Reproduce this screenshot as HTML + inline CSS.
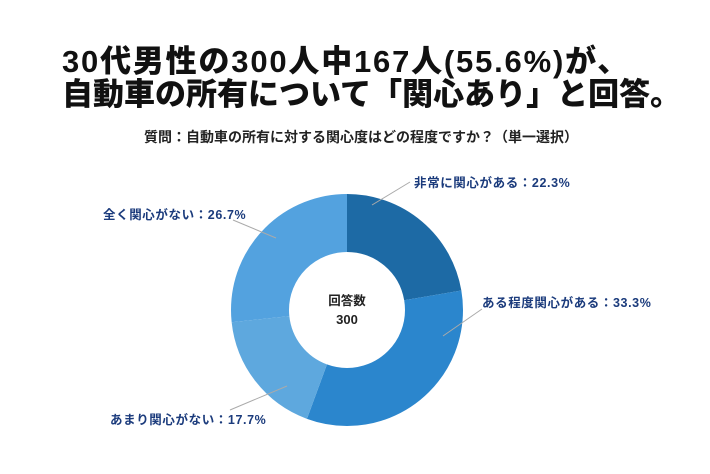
<!DOCTYPE html>
<html><head><meta charset="utf-8"><style>
body{margin:0;background:#fff;width:710px;height:474px;overflow:hidden;font-family:"Liberation Sans","Noto Sans CJK JP",sans-serif;}
.t{position:absolute;left:62px;font-weight:900;font-size:31px;color:#111;white-space:nowrap}
.l{position:absolute;font-weight:bold;font-size:12.5px;color:#1b3b7c;white-space:nowrap;letter-spacing:0.6px}
</style></head><body>
<div class="t" style="top:36px;letter-spacing:1.8px">30代男性の300人中167人(55.6%)が、</div>
<div class="t" style="top:69px;letter-spacing:0px">自動車の所有について「関心あり」と回答。</div>
<div style="position:absolute;top:127px;left:0;width:710px;text-align:center;font-size:14px;font-weight:bold;color:#222;padding-left:6px">質問：自動車の所有に対する関心度はどの程度ですか？（単一選択）</div>
<svg width="710" height="474" style="position:absolute;left:0;top:0">
<g transform="rotate(-90 347 310)" fill="none" stroke-width="58">
<circle cx="347" cy="310" r="87" stroke="#1d6aa5" stroke-dasharray="121.9 546.6" stroke-dashoffset="0"/>
<circle cx="347" cy="310" r="87" stroke="#2b86cd" stroke-dasharray="182.0 546.6" stroke-dashoffset="-121.9"/>
<circle cx="347" cy="310" r="87" stroke="#5ea8de" stroke-dasharray="96.7 546.6" stroke-dashoffset="-303.9"/>
<circle cx="347" cy="310" r="87" stroke="#53a2df" stroke-dasharray="146.0 546.6" stroke-dashoffset="-400.6"/>
</g>
<g stroke="#aaa" stroke-width="1">
<line x1="372" y1="205" x2="410" y2="182"/>
<line x1="443" y1="336" x2="482" y2="309"/>
<line x1="287" y1="386" x2="230" y2="410"/>
<line x1="276" y1="238" x2="233" y2="220"/>
</g>
<text x="347" y="305" text-anchor="middle" font-size="12.5" font-weight="bold" fill="#222" font-family="Liberation Sans,Noto Sans CJK JP,sans-serif">回答数</text>
<text x="347" y="324" text-anchor="middle" font-size="13" font-weight="bold" fill="#222" font-family="Liberation Sans,sans-serif">300</text>
</svg>
<div class="l" style="left:414px;top:172px">非常に関心がある：22.3%</div>
<div class="l" style="left:482px;top:292px">ある程度関心がある：33.3%</div>
<div class="l" style="left:110px;top:409px">あまり関心がない：17.7%</div>
<div class="l" style="left:103px;top:204px">全く関心がない：26.7%</div>
</body></html>
